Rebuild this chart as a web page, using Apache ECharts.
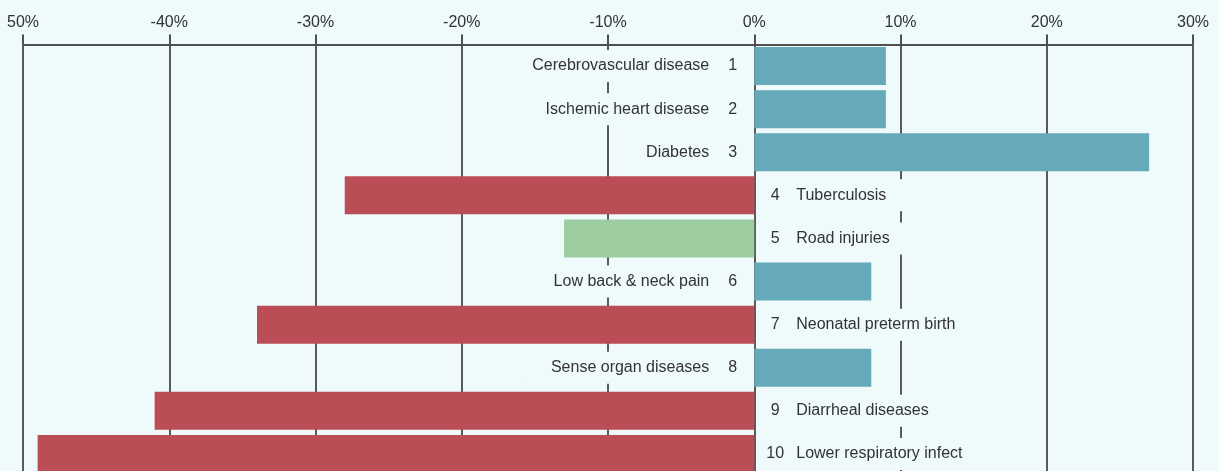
<!DOCTYPE html>
<html>
<head>
<meta charset="utf-8">
<style>
  html, body { margin: 0; padding: 0; background: #effafa; }
  #chart { width: 1219px; height: 471px; }
</style>
<script src="https://cdn.jsdelivr.net/npm/echarts@6/dist/echarts.min.js"></script>
</head>
<body>
<div id="chart"></div>
<script>
// causes of death, ranked, change in %
const ranks = ['1', '2', '3', '4', '5', '6', '7', '8', '9', '10']
const causes = [
  'Cerebrovascular disease', 'Ischemic heart disease', 'Diabetes', 'Tuberculosis',
  'Road injuries', 'Low back & neck pain', 'Neonatal preterm birth',
  'Sense organ diseases', 'Diarrheal diseases', 'Lower respiratory infect'
]
const change = [9, 9, 27, -28, -13, 8, -34, 8, -41, -49]
const group = ['up', 'up', 'up', 'down', 'flat', 'up', 'down', 'up', 'down', 'down']
const tickValues = [-50, -40, -30, -20, -10, 0, 10, 20, 30]
const tickLabels = ['50%', '-40%', '-30%', '-20%', '-10%', '0%', '10%', '20%', '30%']

const BG = '#effafa'
const FONT = "'Liberation Sans', Arial, sans-serif"
const colors = { up: '#65a9bb', down: '#bb4d56', flat: '#9ccc9f' }

const chart = echarts.init(document.getElementById('chart'))

const seriesData = change.map((v, i) => {
  const left = v > 0
  return {
    value: v,
    itemStyle: { color: colors[group[i]] },
    label: left ? {
      position: 'left',
      distance: 7,
      formatter: '{name|' + causes[i] + '}{num|' + ranks[i] + '}'
    } : {
      position: 'right',
      distance: 4,
      formatter: '{num|' + ranks[i] + '}{name|' + causes[i] + '}'
    }
  }
})

chart.setOption({
  backgroundColor: BG,
  animation: false,
  grid: {
    left: 23,
    right: 26,
    top: 44.5,
    height: 431,
    outerBoundsMode: 'none'
  },
  xAxis: {
    type: 'value',
    position: 'top',
    min: -50,
    max: 30,
    interval: 10,
    axisLine: { show: true, lineStyle: { color: '#4f4f4f', width: 2 } },
    axisTick: { show: true, inside: false, length: 10, lineStyle: { color: '#4f4f4f', width: 2 } },
    axisLabel: {
      margin: 14,
      color: '#333',
      fontFamily: FONT,
      fontSize: 16,
      formatter: (v) => tickLabels[tickValues.indexOf(v)]
    },
    splitLine: { show: true, lineStyle: { color: '#5a5a5a', width: 2 } }
  },
  yAxis: {
    type: 'category',
    inverse: true,
    data: causes,
    show: false
  },
  series: [{
    type: 'bar',
    barWidth: 38,
    data: seriesData,
    label: {
      show: true,
      color: '#333',
      fontFamily: FONT,
      fontSize: 16,
      backgroundColor: BG,
      padding: [8, 10, 8, 10],
      rich: {
        name: { fontFamily: FONT, fontSize: 16, color: '#333', padding: [0, 14, 0, 14] },
        num: { fontFamily: FONT, fontSize: 16, color: '#333', width: 14, align: 'right' }
      }
    }
  }]
})
</script>
</body>
</html>
